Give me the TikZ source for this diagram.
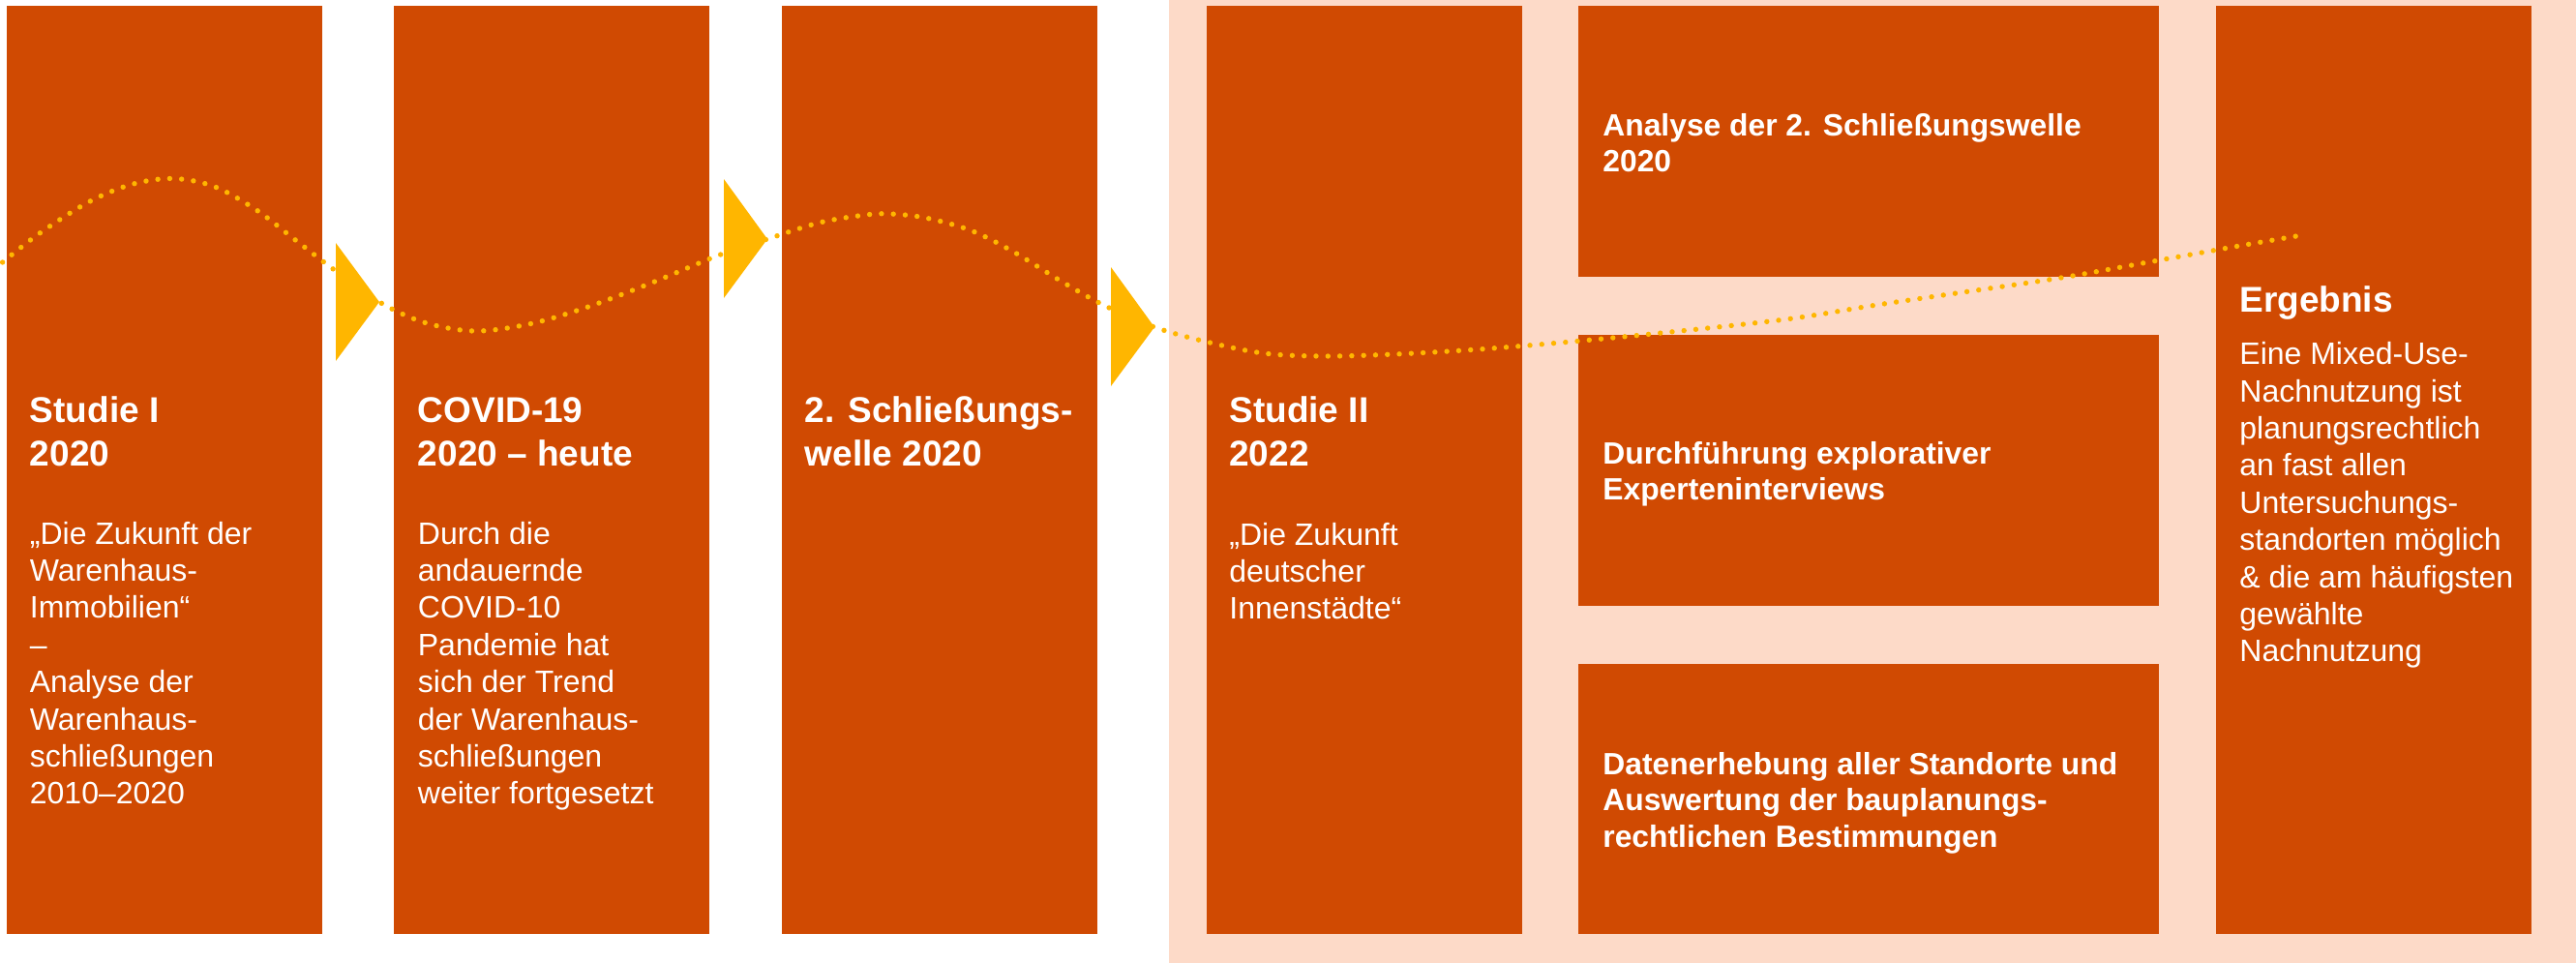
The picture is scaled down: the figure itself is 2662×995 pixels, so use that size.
\documentclass[tikz,border=0pt]{standalone}
\usepackage{fontspec}
\setmainfont{Liberation Sans}
\definecolor{boxorange}{HTML}{D04A02}
\definecolor{peach}{HTML}{FDDAC8}
\definecolor{amber}{HTML}{FFB600}
\begin{document}
% one unit = one pixel of the 2662 x 995 canvas, y grows downwards;
% multi-line texts are anchored at the baseline of their last line
\begin{tikzpicture}[x=0.5pt,y=-0.5pt,
  card/.style={fill=boxorange, inner sep=0pt, outer sep=0pt, anchor=north west,
    minimum width=163pt, minimum height=479.5pt},
  wide/.style={fill=boxorange, inner sep=0pt, outer sep=0pt, anchor=north west,
    minimum width=300pt, minimum height=139.75pt},
  title/.style={text=white, inner sep=0pt, anchor=base west, align=left,
    font=\fontsize{18.5}{22.5}\selectfont\bfseries},
  body/.style={text=white, inner sep=0pt, anchor=base west, align=left,
    font=\fontsize{16}{19.2}\selectfont},
  midtext/.style={text=white, inner sep=0pt, anchor=base west, align=left,
    font=\fontsize{15.9}{18.75}\selectfont\bfseries},
  dotline/.style={draw=amber, line width=2.7pt, line cap=round,
    dash pattern=on 0pt off 6.15pt},
  marker/.style={fill=amber}
]
% canvas and the shaded study-II panel
\fill[white] (0,0) rectangle (2662,995);
\useasboundingbox (0,0) rectangle (2662,995);
\fill[peach] (1208,0) rectangle (2662,995);

% column boxes
\node[card] (s1) at (7,6) {};
\node[card] (cov) at (407,6) {};
\node[card] (wave) at (808,6) {};
\node[card] (s2) at (1247,6) {};
\node[wide] (ana) at (1631,6) {};
\node[wide] (int) at (1631,346) {};
\node[wide] (dat) at (1631,685.5) {};
\node[card] (erg) at (2290,6) {};

% dotted time line
\draw[dotline] plot[smooth, tension=0.55] coordinates {
  (2.6,271) (41,241) (93,208) (138,190) (180,184.5) (222,193) (265,217)
  (304,247) (343,277) (392,312) (438,333) (490,342) (546,335) (605,318)
  (674,292) (742,264) (793,247) (847,230) (895,222) (920,221) (956,225)
  (1003,238) (1047,260) (1099,292) (1142,316) (1193,338) (1246,353)
  (1306,365) (1367,368) (1441,366) (1527,361) (1613,354) (1707,345)
  (1845,330) (1940,315) (2035,301) (2130,287) (2225,270) (2320,253)
  (2373,244)};

% arrow markers between the columns
\fill[marker] (347,251) -- (392,312) -- (347,373) -- cycle;
\fill[marker] (748,185) -- (793,247) -- (748,308) -- cycle;
\fill[marker] (1148,276) -- (1193,338) -- (1148,399) -- cycle;

% texts
\node[title] (s1t) at ([shift={(23.5,475)}]s1.north west) {Studie I\\2020};
\node[body] (s1b) at ([shift={(23.5,824.8)}]s1.north west)
  {„Die Zukunft der\\Warenhaus-\\Immobilien“\\–\\Analyse der\\Warenhaus-\\schließungen\\2010–2020};

\node[title] (covt) at ([shift={(24.5,475)}]cov.north west) {COVID-19\\2020 – heute};
\node[body] (covb) at ([shift={(24.5,824.8)}]cov.north west)
  {Durch die\\andauernde\\COVID-10\\Pandemie hat\\sich der Trend\\der Warenhaus-\\schließungen\\weiter fortgesetzt};

\node[title] (wavet) at ([shift={(23.5,475)}]wave.north west) {2. Schließungs-\\welle 2020};

\node[title] (s2t) at ([shift={(23,475.5)}]s2.north west) {Studie II\\2022};
\node[body] (s2b) at ([shift={(23,633.8)}]s2.north west)
  {„Die Zukunft\\deutscher\\Innenstädte“};

\node[midtext] (anat) at ([shift={(25,171.5)}]ana.north west)
  {Analyse der 2. Schließungswelle\\2020};
\node[midtext] (intt) at ([shift={(25,170.5)}]int.north west)
  {Durchführung explorativer\\Experteninterviews};
\node[midtext] (datt) at ([shift={(25,189.5)}]dat.north west)
  {Datenerhebung aller Standorte und\\Auswertung der bauplanungs-\\rechtlichen Bestimmungen};

\node[title] (ergt) at ([shift={(24,316)}]erg.north west) {Ergebnis};
\node[body] (ergb) at ([shift={(24,677.9)}]erg.north west)
  {Eine Mixed-Use-\\Nachnutzung ist\\planungsrechtlich\\an fast allen\\Untersuchungs-\\standorten möglich\\\& die am häufigsten\\gewählte\\Nachnutzung};
\end{tikzpicture}
\end{document}
